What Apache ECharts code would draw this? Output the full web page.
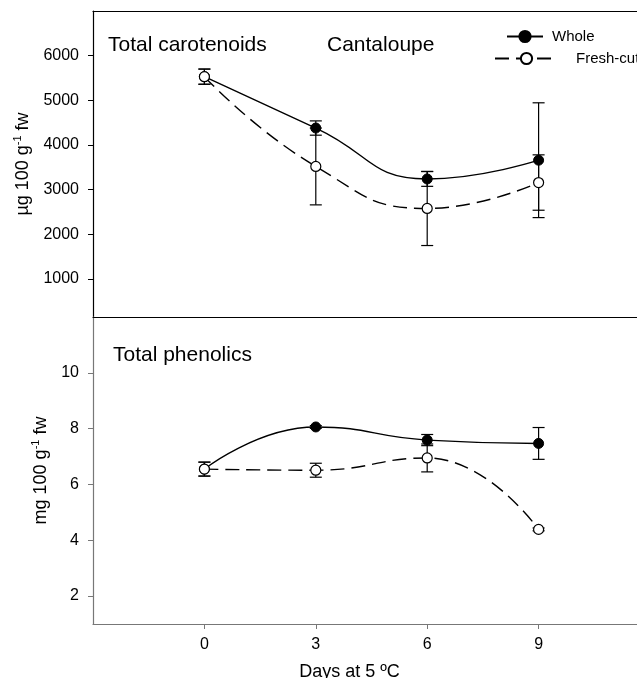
<!DOCTYPE html>
<html>
<head>
<meta charset="utf-8">
<script src="https://cdn.jsdelivr.net/npm/echarts@6/dist/echarts.min.js"></script>
<style>
  html, body { margin: 0; padding: 0; background: #fff; }
  #chart { width: 637px; height: 678px; }
</style>
</head>
<body>
<div id="chart"></div>
<script>
var days = [0, 3, 6, 9];
var dayTicks = [0, 3, 6, 9];

// total carotenoids (ug 100 g-1 fw)
var carWhole = [5530, 4380, 3240, 3660];
var carWholeErr = [170, 160, 165, 1285];
var carFresh = [5530, 3520, 2580, 3160];
var carFreshErr = [170, 860, 830, 620];
var carTicks = [1000, 2000, 3000, 4000, 5000, 6000];

// total phenolics (mg 100 g-1 fw)
var phWhole = [6.55, 8.06, 7.59, 7.47];
var phWholeErr = [0.25, 0.05, 0.2, 0.57];
var phFresh = [6.55, 6.51, 6.95, 4.39];
var phFreshErr = [0.25, 0.25, 0.5, 0.05];
var phTicks = [2, 4, 6, 8, 10];

var FONT = 'Liberation Sans, Arial, sans-serif';

var dom = document.getElementById('chart');
var myChart = echarts.init(dom);

function pairs(vals) {
  return days.map(function (d, i) { return [d, vals[i]]; });
}
function errRows(vals, errs) {
  return days.map(function (d, i) { return [d, vals[i] - errs[i], vals[i] + errs[i]]; });
}

// error bar: vertical line with caps
function renderErr(params, api) {
  var x = api.value(0);
  var lo = api.coord([x, api.value(1)]);
  var hi = api.coord([x, api.value(2)]);
  var w = 6;
  var st = { stroke: '#000', lineWidth: 1.2 };
  return {
    type: 'group',
    children: [
      { type: 'line', shape: { x1: lo[0], y1: lo[1], x2: hi[0], y2: hi[1] }, style: st },
      { type: 'line', shape: { x1: lo[0] - w, y1: lo[1], x2: lo[0] + w, y2: lo[1] }, style: st },
      { type: 'line', shape: { x1: hi[0] - w, y1: hi[1], x2: hi[0] + w, y2: hi[1] }, style: st }
    ]
  };
}

var supName = function (pre) {
  return '{n|' + pre + ' 100 g}{s|-1}{n| fw}';
};
var nameRich = {
  n: { fontSize: 18, fontFamily: FONT, color: '#000', lineHeight: 20, verticalAlign: 'bottom' },
  s: { fontSize: 11, fontFamily: FONT, color: '#000', lineHeight: 20, verticalAlign: 'top' }
};
var plain = function (v) { return String(v); };
var frameLine = { show: true, onZero: false, lineStyle: { color: '#000', width: 1.2 } };

var option = {
  animation: false,
  backgroundColor: '#fff',
  title: [
    { text: 'Total carotenoids', left: 108, top: 35, padding: 0,
      textStyle: { fontSize: 21, fontWeight: 'normal', fontFamily: FONT, color: '#000', lineHeight: 21 } },
    { text: 'Cantaloupe', left: 327, top: 35, padding: 0,
      textStyle: { fontSize: 21, fontWeight: 'normal', fontFamily: FONT, color: '#000', lineHeight: 21 } },
    { text: 'Total phenolics', left: 113, top: 345, padding: 0,
      textStyle: { fontSize: 21, fontWeight: 'normal', fontFamily: FONT, color: '#000', lineHeight: 21 } }
  ],
  legend: [
    {
      data: ['Whole'], left: 506, top: 29, padding: 0,
      itemWidth: 36, itemHeight: 14,
      textStyle: { fontSize: 15, fontFamily: FONT, color: '#000', padding: [0, 0, 0, 4] }
    },
    {
      data: ['Fresh-cut'], left: 494, top: 51, padding: 0,
      itemWidth: 63, itemHeight: 14,
      textStyle: { fontSize: 15, fontFamily: FONT, color: '#000', padding: [0, 0, 0, 13] }
    }
  ],
  grid: [
    { left: 93, top: 11, width: 557, height: 306, show: false, outerBoundsMode: 'none', containLabel: false },
    { left: 93, top: 317, width: 557, height: 307, show: false, outerBoundsMode: 'none', containLabel: false }
  ],
  xAxis: [
    {
      gridIndex: 0, type: 'value', min: -3, max: 12, position: 'bottom',
      axisLine: frameLine, axisTick: { show: false }, axisLabel: { show: false }, splitLine: { show: false }
    },
    {
      gridIndex: 1, type: 'value', min: -3, max: 12, position: 'bottom',
      name: 'Days at 5 ºC', nameLocation: 'middle', nameGap: 39,
      nameTextStyle: { fontSize: 18, fontFamily: FONT, color: '#000', padding: [0, 44, 0, 0] },
      axisLine: { show: true, onZero: false, lineStyle: { color: '#777', width: 1.2 } },
      axisTick: { show: true, inside: false, length: 5, customValues: dayTicks, lineStyle: { color: '#777' } },
      axisLabel: { fontSize: 16, fontFamily: FONT, color: '#000', margin: 13, customValues: dayTicks, formatter: plain },
      splitLine: { show: false }
    },
    {
      gridIndex: 0, type: 'value', min: -3, max: 12, position: 'top',
      axisLine: frameLine, axisTick: { show: false }, axisLabel: { show: false }, splitLine: { show: false }
    }
  ],
  yAxis: [
    {
      gridIndex: 0, type: 'value', min: 150, max: 7000, position: 'left',
      name: supName('µg'), nameLocation: 'middle', nameRotate: 90, nameGap: 53,
      nameTextStyle: { rich: nameRich },
      axisLine: frameLine,
      axisTick: { show: true, length: 5, customValues: carTicks, lineStyle: { color: '#000' } },
      axisLabel: { fontSize: 16, fontFamily: FONT, color: '#000', margin: 14, customValues: carTicks, formatter: plain },
      splitLine: { show: false }
    },
    {
      gridIndex: 1, type: 'value', min: 1, max: 12, position: 'left',
      name: supName('mg'), nameLocation: 'middle', nameRotate: 90, nameGap: 41,
      nameTextStyle: { rich: nameRich },
      axisLine: { show: true, onZero: false, lineStyle: { color: '#777', width: 1.2 } },
      axisTick: { show: true, length: 5, customValues: phTicks, lineStyle: { color: '#777' } },
      axisLabel: { fontSize: 16, fontFamily: FONT, color: '#000', margin: 14, customValues: phTicks, formatter: plain },
      splitLine: { show: false }
    }
  ],
  series: [
    { type: 'custom', xAxisIndex: 0, yAxisIndex: 0, renderItem: renderErr, data: errRows(carWhole, carWholeErr), z: 1, silent: true },
    { type: 'custom', xAxisIndex: 0, yAxisIndex: 0, renderItem: renderErr, data: errRows(carFresh, carFreshErr), z: 1, silent: true },
    { type: 'custom', xAxisIndex: 1, yAxisIndex: 1, renderItem: renderErr, data: errRows(phWhole, phWholeErr), z: 1, silent: true },
    { type: 'custom', xAxisIndex: 1, yAxisIndex: 1, renderItem: renderErr, data: errRows(phFresh, phFreshErr), z: 1, silent: true },
    {
      name: 'Whole', type: 'line', xAxisIndex: 0, yAxisIndex: 0, smooth: 0.5,
      symbol: 'circle', symbolSize: 10, z: 3,
      lineStyle: { color: '#000', width: 1.4 },
      itemStyle: { color: '#000', borderColor: '#000', borderWidth: 1 },
      data: pairs(carWhole)
    },
    {
      name: 'Fresh-cut', type: 'line', xAxisIndex: 0, yAxisIndex: 0, smooth: 0.5,
      symbol: 'circle', symbolSize: 10, z: 3,
      lineStyle: { color: '#000', width: 1.4, type: [14, 7] },
      itemStyle: { color: '#fff', borderColor: '#000', borderWidth: 1.2 },
      data: pairs(carFresh)
    },
    {
      name: 'Whole', type: 'line', xAxisIndex: 1, yAxisIndex: 1, smooth: 0.5,
      symbol: 'circle', symbolSize: 10, z: 3,
      lineStyle: { color: '#000', width: 1.4 },
      itemStyle: { color: '#000', borderColor: '#000', borderWidth: 1 },
      data: pairs(phWhole)
    },
    {
      name: 'Fresh-cut', type: 'line', xAxisIndex: 1, yAxisIndex: 1, smooth: 0.5,
      symbol: 'circle', symbolSize: 10, z: 3,
      lineStyle: { color: '#000', width: 1.4, type: [14, 7] },
      itemStyle: { color: '#fff', borderColor: '#000', borderWidth: 1.2 },
      data: pairs(phFresh)
    }
  ]
};

if (option && typeof option === 'object') {
  myChart.setOption(option, true);
}
</script>
</body>
</html>
